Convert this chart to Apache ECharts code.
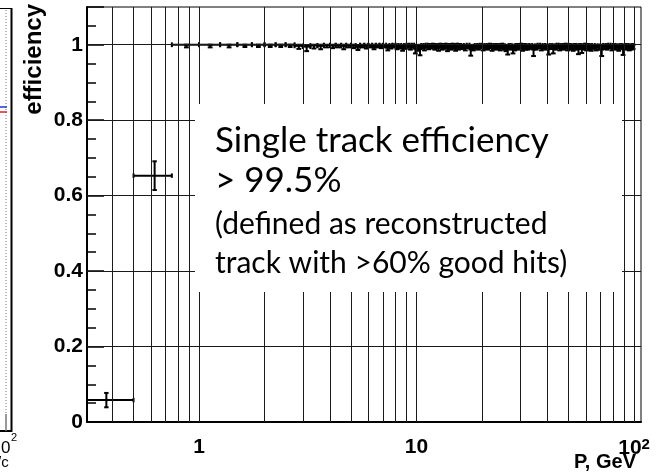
<!DOCTYPE html>
<html><head><meta charset="utf-8">
<script src="https://cdn.jsdelivr.net/npm/echarts@6/dist/echarts.min.js"></script>
<style>html,body{margin:0;padding:0;background:#fff}#c{width:657px;height:474px}</style>
</head><body><div id="c"></div><script>
// ---- data ----
// first two wide-error bins
const lowP = [0.375, 0.625];
const lowEff = [0.058, 0.653];
const lowErr = [0.019, 0.038];
const lowHalfWidth = 0.125;

// 0.25 GeV bins
const pA = [0.875,1.125,1.375,1.625,1.875,2.125,2.375,2.625,2.875,3.125,3.375,3.625,3.875,4.125,4.375,4.625,4.875,5.125,5.375,5.625,5.875,6.125,6.375,6.625,6.875,7.125,7.375,7.625,7.875,8.125,8.375,8.625,8.875,9.125,9.375,9.625,9.875,10.125,10.375,10.625,10.875,11.125,11.375,11.625,11.875,12.125,12.375,12.625,12.875,13.125,13.375,13.625,13.875,14.125,14.375,14.625,14.875,15.125,15.375,15.625,15.875];
const effA = [1.000,1.000,1.000,1.000,1.000,1.000,1.000,1.000,0.997,0.995,
 0.998,0.997,0.999,0.998,0.999,0.997,0.999,0.998,0.996,0.999,
 0.998,0.999,0.997,0.999,0.998,0.999,0.996,0.998,0.999,0.997,
 0.998,0.996,0.998,0.999,0.997,0.999,0.993,0.996,0.992,0.998,
 0.996,0.999,0.997,0.998,0.999,0.997,0.998,0.996,0.999,0.997,
 0.998,0.999,0.996,0.998,0.997,0.999,0.998,0.996,0.999,0.997,
 0.998];
const loA = [0.007,0.007,0.007,0.006,0.006,0.006,0.006,0.006,0.008,0.012,
 0.008,0.009,0.006,0.007,0.006,0.009,0.006,0.007,0.010,0.006,
 0.008,0.006,0.009,0.006,0.007,0.006,0.011,0.008,0.006,0.009,
 0.008,0.012,0.009,0.007,0.010,0.007,0.016,0.012,0.020,0.008,
 0.011,0.007,0.009,0.008,0.007,0.010,0.008,0.012,0.007,0.010,
 0.009,0.007,0.013,0.009,0.010,0.007,0.009,0.012,0.007,0.010,
 0.009];
const hiA = [0,0,0,0,0,0,0,0,0.003,0.004,
 0.002,0.003,0.001,0.002,0.001,0.003,0.001,0.002,0.003,0.001,
 0.002,0.001,0.003,0.001,0.002,0.001,0.003,0.002,0.001,0.003,
 0.002,0.003,0.002,0.001,0.003,0.001,0.005,0.003,0.006,0.002,
 0.003,0.001,0.003,0.002,0.001,0.003,0.002,0.003,0.001,0.003,
 0.002,0.001,0.003,0.002,0.003,0.001,0.002,0.003,0.001,0.003,
 0.002];
const halfWidthA = 0.125;

// 0.5 GeV bins
const pB = [16.25,16.75,17.25,17.75,18.25,18.75,19.25,19.75,20.25,20.75,21.25,21.75,22.25,22.75,23.25,23.75,24.25,24.75,25.25,25.75,26.25,26.75,27.25,27.75,28.25,28.75,29.25,29.75,30.25,30.75,31.25,31.75];
const effB = [0.998,0.996,0.999,0.991,0.996,0.998,0.997,0.999,0.996,0.998,
 0.997,0.999,0.996,0.998,0.997,0.998,0.996,0.999,0.997,0.995,
 0.992,0.998,0.997,0.993,0.996,0.998,0.997,0.998,0.999,0.996,
 0.998,0.997];
const loB = [0.009,0.011,0.008,0.020,0.011,0.009,0.010,0.008,0.011,0.009,
 0.010,0.008,0.012,0.009,0.010,0.009,0.011,0.008,0.010,0.012,
 0.018,0.009,0.010,0.016,0.011,0.009,0.010,0.009,0.008,0.012,
 0.009,0.010];
const hiB = [0.002,0.003,0.001,0.006,0.003,0.002,0.003,0.001,0.003,0.002,
 0.003,0.001,0.003,0.002,0.003,0.002,0.003,0.001,0.003,0.004,
 0.005,0.002,0.003,0.005,0.003,0.002,0.003,0.002,0.001,0.003,
 0.002,0.003];
const halfWidthB = 0.25;

// 1 GeV bins
const pC = [32.5,33.5,34.5,35.5,36.5,37.5,38.5,39.5,40.5,41.5,42.5,43.5,44.5,45.5,46.5,47.5,48.5,49.5,50.5,51.5,52.5,53.5,54.5,55.5,56.5,57.5,58.5,59.5,60.5,61.5,62.5,63.5];
const effC = [0.997,0.998,0.991,0.997,0.999,0.996,0.998,0.997,0.992,0.998,
 0.993,0.997,0.999,0.996,0.998,0.997,0.999,0.996,0.998,0.997,
 0.996,0.998,0.997,0.992,0.998,0.993,0.997,0.999,0.996,0.998,
 0.997,0.996];
const loC = [0.010,0.009,0.021,0.010,0.008,0.011,0.009,0.010,0.018,0.009,
 0.016,0.010,0.008,0.011,0.009,0.010,0.008,0.011,0.009,0.010,
 0.012,0.009,0.010,0.017,0.009,0.015,0.010,0.008,0.011,0.009,
 0.010,0.012];
const hiC = [0.003,0.002,0.006,0.003,0.001,0.003,0.002,0.003,0.005,0.002,
 0.005,0.003,0.001,0.003,0.002,0.003,0.001,0.003,0.002,0.003,
 0.003,0.002,0.003,0.005,0.002,0.005,0.003,0.001,0.003,0.002,
 0.003,0.003];
const halfWidthC = 0.5;

// 2 GeV bins
const pD = [65,67,69,71,73,75,77,79,81,83,85,87,89,91,93,95,97,99];
const effD = [0.998,0.996,0.997,0.991,0.998,0.997,0.999,0.996,0.998,0.997,
 0.996,0.998,0.992,0.997,0.998,0.996,0.997,0.998];
const loD = [0.009,0.011,0.010,0.021,0.009,0.010,0.008,0.011,0.009,0.010,
 0.012,0.009,0.019,0.010,0.009,0.011,0.010,0.009];
const hiD = [0.002,0.003,0.003,0.006,0.002,0.003,0.001,0.003,0.002,0.003,
 0.003,0.002,0.005,0.003,0.002,0.003,0.003,0.002];
const halfWidthD = 1;

// axes
const xMin = 0.3055, xMax = 107.6;
const yMin = 0, yMax = 1.1, yMajor = 0.2;
const xGridValues = [0.4,0.5,0.6,0.7,0.8,0.9,1,2,3,4,5,6,7,8,9,10,20,30,40,50,60,70,80,90,100];
const yGridValues = [0.2,0.4,0.6,0.8,1.0];
const yMinorTicks = [0.05,0.1,0.15,0.25,0.3,0.35,0.45,0.5,0.55,0.65,0.7,0.75,0.85,0.9,0.95,1.05];

const xTitle = 'P, GeV';
const yTitle = 'efficiency';
const boxLines = ['Single track efficiency', '> 99.5%', '(defined as reconstructed', 'track with >60% good hits)'];

// ---- build table ----
const rows = [];
function addGroup(ps, effs, los, his, hw) {
  for (let i = 0; i < ps.length; i++) rows.push([ps[i], effs[i], los[i], his[i], hw]);
}
addGroup(lowP, lowEff, lowErr, lowErr, lowHalfWidth);
addGroup(pA, effA, loA, hiA, halfWidthA);
addGroup(pB, effB, loB, hiB, halfWidthB);
addGroup(pC, effC, loC, hiC, halfWidthC);
addGroup(pD, effD, loD, hiD, halfWidthD);

function renderItem(params, api) {
  const p = api.value(0), eff = api.value(1), lo = api.value(2), hi = api.value(3), hw = api.value(4);
  const big = eff < 0.9;
  const cap = big ? 2.2 : 2.4;
  const lw = 2;
  const l = api.coord([p - hw, eff]);
  const r = api.coord([p + hw, eff]);
  const b = api.coord([p, eff - lo]);
  const t = api.coord([p, eff + hi]);
  const st = { stroke: '#000', lineWidth: lw };
  const mk = (x1, y1, x2, y2) => ({ type: 'line', shape: { x1, y1, x2, y2 }, style: st });
  return {
    type: 'group',
    children: [
      mk(l[0], l[1], r[0], r[1]),
      mk(l[0], l[1] - cap, l[0], l[1] + cap),
      mk(r[0], r[1] - cap, r[0], r[1] + cap),
      mk(b[0], b[1], t[0], t[1]),
      mk(b[0] - cap, b[1], b[0] + cap, b[1]),
      mk(t[0] - cap, t[1], t[0] + cap, t[1])
    ]
  };
}

const chart = echarts.init(document.getElementById('c'), null, { renderer: 'canvas' });
const boldFont = 'Liberation Sans';
chart.setOption({
  animation: false,
  backgroundColor: '#fff',
  grid: { left: 87, right: 16, top: 7, bottom: 52, outerBoundsMode: 'none', containLabel: false, show: true, borderColor: '#000', borderWidth: 1, backgroundColor: 'transparent' },
  xAxis: {
    type: 'log', logBase: 10, min: xMin, max: xMax,
    axisLine: { show: true, lineStyle: { color: '#000', width: 2 } },
    axisTick: { show: false },
    splitLine: { show: false },
    axisLabel: {
      show: true, showMinLabel: false, showMaxLabel: false, margin: 15,
      fontFamily: boldFont, fontWeight: 'bold', fontSize: 21, color: '#000',
      formatter: function (v) {
        if (Math.abs(v - 1) < 1e-6) return '1';
        if (Math.abs(v - 10) < 1e-6) return '10';
        if (Math.abs(v - 100) < 1e-4) return '{n|10}{s|2}';
        return '';
      },
      rich: {
        n: { fontFamily: boldFont, fontWeight: 'bold', fontSize: 21, color: '#000' },
        s: { fontFamily: boldFont, fontWeight: 'bold', fontSize: 15, color: '#000', verticalAlign: 'top', padding: [0, 0, 8, 0] }
      }
    }
  },
  yAxis: [{
    type: 'value', min: yMin, max: yMax, interval: yMajor,
    axisLine: { show: true, lineStyle: { color: '#000', width: 2 } },
    axisTick: { show: true, inside: true, length: 9, customValues: yMinorTicks, lineStyle: { color: '#000', width: 1.5 } },
    splitLine: { show: false },
    axisLabel: { showMaxLabel: false, margin: 4, fontFamily: boldFont, fontWeight: 'bold', fontSize: 21, color: '#000' }
  }, {
    type: 'value', min: yMin, max: yMax, interval: yMajor, position: 'left', offset: 0,
    axisLine: { show: false }, axisLabel: { show: false }, splitLine: { show: false },
    axisTick: { show: true, inside: true, length: 17, lineStyle: { color: '#000', width: 1.5 } }
  }],
  series: [{
    type: 'line', data: [], silent: true, symbol: 'none', z: 1,
    markLine: {
      silent: true, symbol: ['none', 'none'], animation: false,
      label: { show: false },
      lineStyle: { color: '#1a1a1a', width: 1, type: 'solid' },
      data: xGridValues.map(v => ({ xAxis: v })).concat(yGridValues.map(v => ({ yAxis: v })))
    }
  }, {
    type: 'custom', renderItem: renderItem, data: rows, clip: true, z: 3,
    encode: { x: 0, y: 1 }
  }],
  graphic: [
    { type: 'rect', z: 50, shape: { x: 195, y: 104, width: 427, height: 188 }, style: { fill: '#fff' } },
    { type: 'text', z: 51, x: 215, y: 141, style: { text: boxLines[0], fontFamily: 'Lato', fontSize: 35, fill: '#000', verticalAlign: 'middle' } },
    { type: 'text', z: 51, x: 215, y: 181, style: { text: boxLines[1], fontFamily: 'Lato', fontSize: 35, fill: '#000', verticalAlign: 'middle' } },
    { type: 'text', z: 51, x: 215, y: 224, style: { text: boxLines[2], fontFamily: 'Lato', fontSize: 30, fill: '#000', verticalAlign: 'middle' } },
    { type: 'text', z: 51, x: 215, y: 263, style: { text: boxLines[3], fontFamily: 'Lato', fontSize: 30, fill: '#000', verticalAlign: 'middle' } },
    { type: 'text', z: 51, x: 34, y: 4, rotation: Math.PI / 2, style: { text: yTitle, fontFamily: boldFont, fontWeight: 'bold', fontSize: 24, fill: '#000', align: 'right', verticalAlign: 'middle' } },
    { type: 'text', z: 51, x: 636, y: 462, style: { text: xTitle, fontFamily: boldFont, fontWeight: 'bold', fontSize: 20, fill: '#000', align: 'right', verticalAlign: 'middle' } },
    // fragment of the neighbouring panel at the left edge
    { type: 'line', z: 5, shape: { x1: 0, y1: 8.5, x2: 12, y2: 8.5 }, style: { stroke: '#000', lineWidth: 1 } },
    { type: 'line', z: 5, shape: { x1: 11.5, y1: 8, x2: 11.5, y2: 432 }, style: { stroke: '#000', lineWidth: 2 } },
    { type: 'line', z: 5, shape: { x1: 0, y1: 431, x2: 12, y2: 431 }, style: { stroke: '#000', lineWidth: 2 } },
    { type: 'line', z: 5, shape: { x1: 6, y1: 10, x2: 6, y2: 414 }, style: { stroke: '#777', lineWidth: 1, lineDash: [1, 2] } },
    { type: 'line', z: 5, shape: { x1: 6, y1: 414, x2: 6, y2: 431 }, style: { stroke: '#777', lineWidth: 1.5 } },
    { type: 'line', z: 5, shape: { x1: 0, y1: 107, x2: 7, y2: 107 }, style: { stroke: '#2233dd', lineWidth: 1.5 } },
    { type: 'line', z: 5, shape: { x1: 0, y1: 112, x2: 7, y2: 112 }, style: { stroke: '#dd2222', lineWidth: 1.5 } },
    { type: 'text', z: 5, x: 1, y: 448, style: { text: '0', fontFamily: 'Liberation Sans', fontSize: 17, fill: '#000', verticalAlign: 'middle' } },
    { type: 'text', z: 5, x: 11, y: 438, style: { text: '2', fontFamily: 'Liberation Sans', fontSize: 11, fill: '#000', verticalAlign: 'middle' } },
    { type: 'text', z: 5, x: -3, y: 463, style: { text: '/c', fontFamily: 'Liberation Sans', fontSize: 15, fill: '#000', verticalAlign: 'middle' } }
  ]
});
</script></body></html>
